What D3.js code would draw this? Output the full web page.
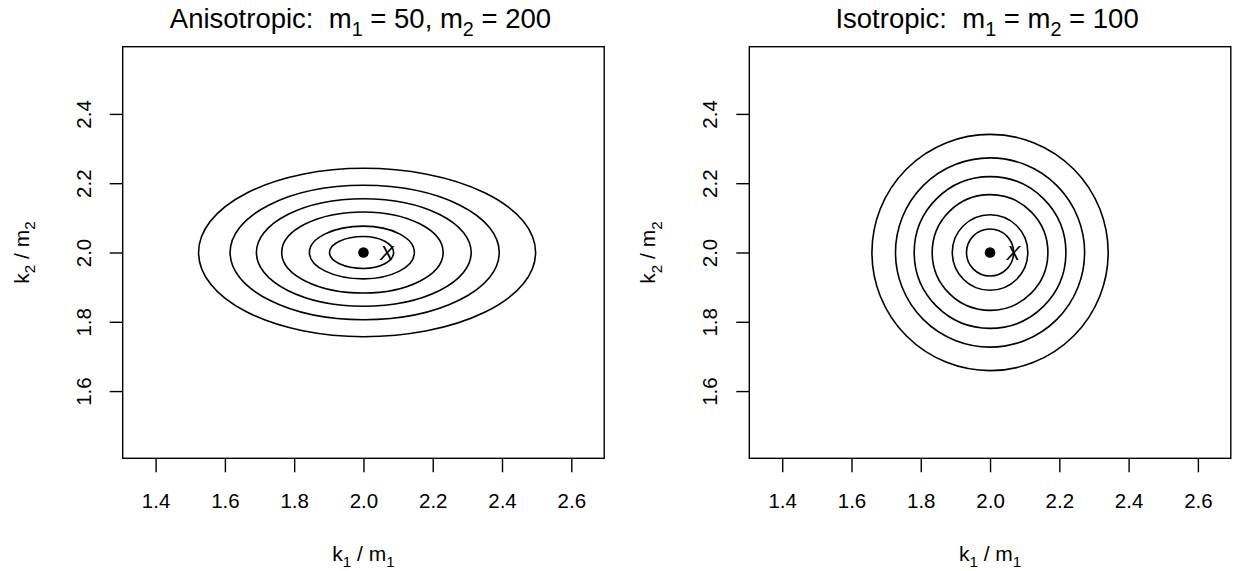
<!DOCTYPE html>
<html>
<head>
<meta charset="utf-8">
<script src="https://cdn.jsdelivr.net/npm/d3@7"></script>
<style>
  html, body { margin: 0; padding: 0; background: #fff; }
  svg text { font-family: "Liberation Sans", Arial, Helvetica, sans-serif; fill: #000; white-space: pre; }
</style>
</head>
<body>
<svg id="chart" width="1238" height="571"></svg>
<script>
// ---- data ----
const xTicks = [1.4, 1.6, 1.8, 2.0, 2.2, 2.4, 2.6];
const yTicks = [1.6, 1.8, 2.0, 2.2, 2.4];
const centerPoint = [2.0, 2.0];
const markLabel = { x: 2.067, y: 2.0, text: "X" };
// anisotropic panel: contour extents from the centre (left, right along k1/m1; half-height along k2/m2)
const anisoLeft  = [0.098, 0.156, 0.236, 0.309, 0.385, 0.476];
const anisoRight = [0.087, 0.147, 0.230, 0.311, 0.392, 0.497];
const anisoHalfY = [0.046, 0.076, 0.117, 0.155, 0.194, 0.243];
// isotropic panel: contour radii
const isoRadius = [0.068, 0.109, 0.167, 0.219, 0.273, 0.341];
const titles = [
  [["Anisotropic:  m", 0], ["1", 1], [" = 50, m", 0], ["2", 1], [" = 200", 0]],
  [["Isotropic:  m", 0], ["1", 1], [" = m", 0], ["2", 1], [" = 100", 0]]
];
const xLabel = [["k", 0], ["1", 1], [" / m", 0], ["1", 1]];
const yLabel = [["k", 0], ["2", 1], [" / m", 0], ["2", 1]];
const xDomain = [1.305, 2.695];
const yDomain = [1.406, 2.594];

// ---- layout ----
const svg = d3.select("#chart");
const panelLeft = [122.7, 749.3];
const boxW = 481.5, boxTop = 46.7, boxH = 411.6;
const FS = 20.5;

function richText(sel, parts, fs) {
  parts.forEach(([t, sub], i) => {
    const ts = sel.append("tspan").text(t);
    if (sub) {
      ts.attr("font-size", fs * 0.72).attr("dy", fs * 0.3);
    } else if (i > 0 && parts[i - 1][1]) {
      ts.attr("dy", -fs * 0.3);
    }
  });
}

function contourPath(cx, cy, al, ar, b) {
  return `M${cx - al},${cy}` +
    `A${al},${b} 0 0 1 ${cx},${cy - b}` +
    `A${ar},${b} 0 0 1 ${cx + ar},${cy}` +
    `A${ar},${b} 0 0 1 ${cx},${cy + b}` +
    `A${al},${b} 0 0 1 ${cx - al},${cy}Z`;
}

[0, 1].forEach(p => {
  const L = panelLeft[p];
  const x = d3.scaleLinear().domain(xDomain).range([L, L + boxW]);
  const y = d3.scaleLinear().domain(yDomain).range([boxTop + boxH, boxTop]);
  const g = svg.append("g");
  const cx = x(centerPoint[0]), cy = y(centerPoint[1]);

  // contours
  const lefts = p === 0 ? anisoLeft : isoRadius;
  const rights = p === 0 ? anisoRight : isoRadius;
  const halfs = p === 0 ? anisoHalfY : isoRadius;
  g.selectAll("path.c").data(d3.range(lefts.length)).join("path")
    .attr("d", i => contourPath(cx, cy,
      cx - x(centerPoint[0] - lefts[i]),
      x(centerPoint[0] + rights[i]) - cx,
      cy - y(centerPoint[1] + halfs[i])))
    .attr("fill", "none").attr("stroke", "#000").attr("stroke-width", 1.6);

  // point and label
  g.append("circle").attr("cx", cx).attr("cy", cy).attr("r", 5.3).attr("fill", "#000");
  g.append("text").attr("x", x(markLabel.x)).attr("y", y(markLabel.y) + 7.5)
    .attr("text-anchor", "middle").attr("font-size", 21).attr("font-style", "italic")
    .text(markLabel.text);

  // box
  g.append("rect").attr("x", L).attr("y", boxTop).attr("width", boxW).attr("height", boxH)
    .attr("fill", "none").attr("stroke", "#000").attr("stroke-width", 1.4);

  // x axis
  const xa = g.append("g").attr("transform", `translate(0,${boxTop + boxH})`)
    .call(d3.axisBottom(x).tickValues(xTicks).tickFormat(d3.format(".1f")).tickSize(14));
  xa.select(".domain").remove();
  xa.selectAll("line").attr("stroke", "#000").attr("stroke-width", 1.4);
  xa.selectAll("text").attr("font-size", FS).attr("font-family", null).attr("dy", null).attr("y", 50);

  // y axis
  const ya = g.append("g").attr("transform", `translate(${L},0)`)
    .call(d3.axisLeft(y).tickValues(yTicks).tickFormat(d3.format(".1f")).tickSize(13));
  ya.select(".domain").remove();
  ya.selectAll("line").attr("stroke", "#000").attr("stroke-width", 1.4);
  ya.selectAll("text").attr("font-size", FS).attr("font-family", null)
    .attr("x", null).attr("dy", null).attr("text-anchor", "middle")
    .attr("transform", "translate(-32,0) rotate(-90)");

  // titles
  const tt = g.append("text").attr("x", L + boxW / 2 - 3).attr("y", 28)
    .attr("text-anchor", "middle").attr("font-size", 27.5);
  richText(tt, titles[p], 27.5);

  const xt = g.append("text").attr("x", L + boxW / 2).attr("y", 561)
    .attr("text-anchor", "middle").attr("font-size", 21);
  richText(xt, xLabel, 21);

  const yt = g.append("text")
    .attr("transform", `translate(${L - 94},${cy}) rotate(-90)`)
    .attr("text-anchor", "middle").attr("font-size", 21);
  richText(yt, yLabel, 21);
});
</script>
</body>
</html>
